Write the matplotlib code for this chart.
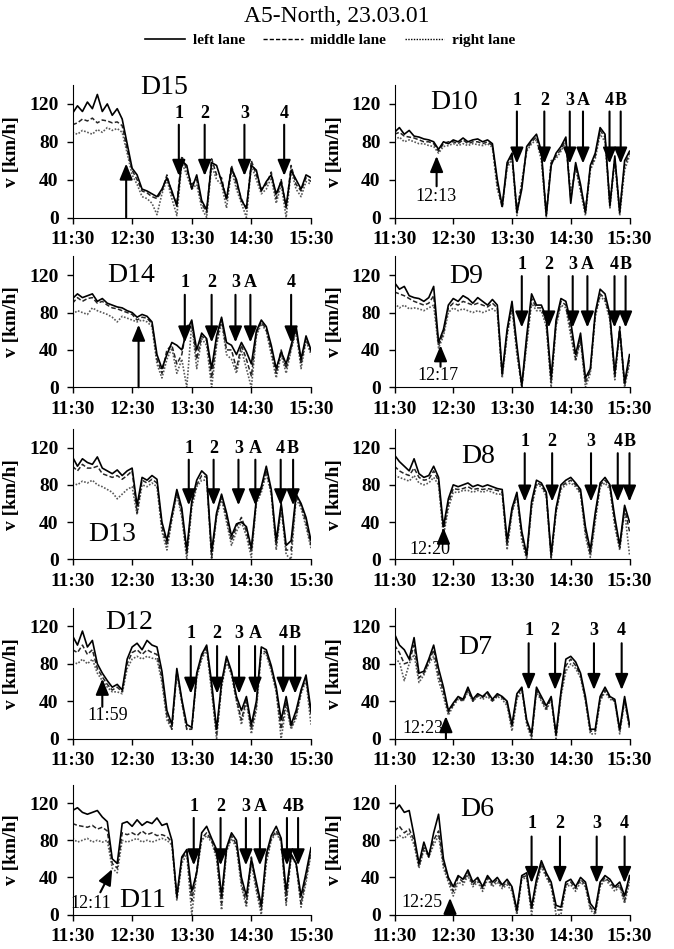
import matplotlib.pyplot as plt
from matplotlib.lines import Line2D

plt.rcParams['font.family'] = ['Liberation Serif', 'DejaVu Serif']
plt.rcParams['font.weight'] = 'bold'

# time axis: minutes after 11:30, sampled every 5 min
minutes = list(range(0, 245, 5))
hour_ticks = [0, 60, 120, 180, 240]
hour_labels = ['11:30', '12:30', '13:30', '14:30', '15:30']
speed_ticks = [0, 40, 80, 120]

# ---- speeds [km/h] per detector and lane ----
d15_left = [110, 118, 112, 122, 115, 130, 112, 120, 108, 115,
            104, 78, 52, 45, 30, 28, 25, 22, 30, 42,
            28, 12, 60, 55, 30, 45, 18, 8, 58, 55,
            38, 20, 52, 40, 18, 10, 55, 50, 28, 38,
            45, 25, 38, 12, 50, 40, 30, 45, 42]
d15_mid = [98, 100, 104, 102, 105, 100, 103, 102, 100, 101,
           97, 72, 50, 40, 28, 26, 22, 20, 28, 45,
           25, 15, 65, 50, 35, 40, 15, 5, 62, 45,
           42, 18, 55, 35, 20, 8, 60, 45, 30, 35,
           48, 20, 40, 10, 55, 35, 28, 42, 38]
d15_right = [90, 88, 92, 90, 88, 93, 90, 95, 92, 94,
             90, 68, 45, 35, 22, 20, 15, 3, 25, 40,
             20, 2, 58, 45, 30, 35, 10, 0, 55, 40,
             35, 10, 50, 30, 15, 0, 55, 40, 25, 30,
             42, 15, 35, 0, 50, 30, 22, 38, 35]

d10_left = [90, 95, 88, 92, 86, 85, 83, 82, 80, 72,
            80, 78, 82, 80, 84, 80, 82, 83, 80, 82,
            78, 40, 12, 58, 68, 5, 30, 75, 82, 88,
            70, 2, 55, 68, 75, 85, 15, 58, 35, 5,
            55, 68, 95, 88, 12, 65, 5, 60, 70]
d10_mid = [88, 90, 86, 85, 84, 82, 80, 80, 78, 70,
           78, 80, 80, 78, 82, 78, 80, 80, 78, 80,
           76, 35, 10, 55, 65, 8, 35, 72, 80, 85,
           65, 5, 58, 65, 72, 82, 20, 55, 30, 8,
           52, 65, 92, 85, 15, 62, 8, 55, 68]
d10_right = [82, 85, 80, 82, 80, 78, 78, 76, 75, 68,
             75, 76, 78, 76, 78, 76, 78, 77, 76, 78,
             74, 30, 12, 52, 62, 2, 38, 70, 78, 82,
             60, 0, 60, 62, 70, 80, 25, 52, 28, 2,
             50, 62, 88, 80, 10, 60, 2, 50, 65]

d14_left = [95, 100, 96, 98, 100, 92, 95, 90, 88, 86,
            85, 82, 80, 75, 78, 76, 70, 35, 20, 35,
            48, 45, 40, 60, 72, 40, 58, 52, 20, 55,
            75, 48, 45, 35, 48, 38, 25, 60, 72, 65,
            45, 20, 38, 25, 45, 65, 30, 55, 40]
d14_mid = [90, 96, 92, 95, 96, 90, 92, 88, 85, 84,
           82, 80, 78, 72, 75, 74, 68, 30, 15, 40,
           45, 25, 35, 65, 70, 30, 55, 50, 10, 50,
           73, 40, 40, 20, 45, 30, 12, 58, 70, 62,
           40, 15, 40, 20, 42, 62, 25, 52, 38]
d14_right = [78, 82, 80, 78, 85, 82, 80, 78, 75, 70,
             76, 74, 72, 70, 72, 70, 65, 25, 10, 30,
             42, 15, 30, 0, 68, 20, 52, 45, 0, 45,
             70, 35, 30, 15, 40, 20, 0, 55, 68, 60,
             35, 10, 35, 15, 40, 60, 20, 50, 35]

d9_left = [112, 105, 108, 98, 96, 95, 92, 96, 108, 48,
           62, 88, 95, 92, 98, 95, 90, 96, 92, 88,
           94, 88, 15, 62, 92, 45, 2, 55, 100, 88,
           88, 75, 10, 72, 95, 92, 70, 35, 58, 10,
           20, 80, 105, 100, 78, 15, 62, 5, 35]
d9_mid = [102, 100, 98, 95, 92, 90, 88, 90, 98, 45,
          58, 85, 90, 88, 92, 90, 88, 90, 88, 86,
          90, 85, 12, 58, 88, 40, 0, 50, 95, 85,
          85, 70, 5, 68, 92, 88, 62, 30, 52, 5,
          18, 78, 100, 95, 75, 10, 65, 2, 30]
d9_right = [90, 85, 88, 84, 85, 84, 82, 85, 88, 42,
            55, 80, 85, 82, 84, 82, 80, 82, 80, 82,
            84, 80, 10, 55, 85, 35, 0, 45, 90, 82,
            82, 65, 0, 65, 88, 85, 55, 28, 50, 0,
            15, 75, 98, 92, 72, 8, 60, 0, 25]

d13_left = [110, 100, 108, 104, 102, 110, 98, 95, 92, 96,
            90, 95, 98, 58, 88, 85, 90, 86, 40, 20,
            48, 75, 55, 10, 62, 85, 95, 90, 8, 50,
            70, 50, 25, 38, 40, 35, 12, 65, 78, 100,
            75, 20, 60, 15, 20, 70, 60, 45, 20]
d13_mid = [100, 95, 102, 98, 98, 100, 92, 90, 88, 90,
           86, 90, 95, 50, 85, 82, 86, 82, 35, 15,
           45, 72, 50, 5, 60, 80, 90, 88, 2, 48,
           68, 45, 20, 35, 45, 30, 8, 62, 75, 96,
           72, 15, 58, 10, 10, 68, 58, 40, 15]
d13_right = [82, 80, 84, 82, 85, 80, 78, 75, 72, 65,
             70, 75, 78, 48, 80, 78, 82, 78, 30, 10,
             42, 70, 45, 0, 55, 78, 85, 85, 0, 45,
             65, 40, 15, 30, 40, 25, 2, 60, 72, 92,
             70, 10, 55, 5, 0, 65, 55, 35, 12]

d8_left = [112, 105, 100, 95, 108, 92, 88, 90, 100, 88,
           35, 65, 80, 78, 80, 82, 78, 80, 78, 80,
           78, 76, 75, 20, 55, 72, 30, 5, 62, 85,
           82, 72, 5, 55, 80, 85, 88, 82, 75, 35,
           10, 50, 82, 88, 80, 45, 15, 58, 40]
d8_mid = [100, 95, 92, 90, 98, 88, 85, 86, 95, 84,
          30, 60, 76, 75, 76, 78, 75, 76, 75, 76,
          75, 74, 72, 15, 52, 70, 25, 2, 58, 82,
          80, 70, 2, 52, 78, 82, 85, 80, 72, 30,
          5, 45, 80, 85, 78, 40, 12, 55, 30]
d8_right = [90, 88, 86, 84, 90, 82, 80, 82, 88, 80,
            25, 55, 72, 72, 74, 74, 72, 74, 72, 74,
            72, 70, 70, 10, 50, 68, 20, 0, 55, 80,
            78, 68, 0, 50, 75, 80, 82, 78, 70, 25,
            2, 40, 78, 82, 75, 35, 10, 52, 5]

d12_left = [110, 100, 115, 98, 105, 80, 70, 62, 55, 58,
            52, 85, 98, 102, 95, 105, 100, 98, 72, 30,
            15, 75, 42, 15, 12, 70, 90, 100, 60, 10,
            60, 88, 72, 45, 30, 45, 15, 40, 98, 95,
            78, 55, 20, 45, 15, 30, 52, 68, 30]
d12_mid = [95, 92, 100, 90, 95, 75, 66, 58, 52, 55,
           50, 80, 92, 95, 90, 95, 92, 90, 65, 25,
           10, 72, 40, 10, 10, 68, 88, 98, 55, 5,
           58, 85, 70, 42, 20, 42, 10, 35, 95, 92,
           75, 52, 10, 40, 12, 25, 50, 65, 25]
d12_right = [82, 80, 85, 80, 85, 70, 62, 55, 50, 50,
             48, 75, 85, 88, 85, 88, 86, 85, 60, 20,
             10, 70, 38, 10, 10, 65, 85, 95, 50, 0,
             55, 82, 68, 40, 15, 40, 5, 30, 92, 90,
             72, 50, 0, 35, 10, 22, 48, 62, 15]

d7_left = [112, 100, 95, 85, 108, 70, 72, 85, 100, 75,
           55, 30, 38, 45, 42, 55, 42, 48, 45, 50,
           42, 48, 45, 40, 15, 48, 55, 20, 5, 55,
           45, 35, 45, 5, 50, 85, 88, 82, 70, 45,
           10, 10, 45, 55, 45, 42, 10, 45, 15]
d7_mid = [100, 92, 80, 82, 100, 65, 70, 82, 95, 68,
          50, 28, 36, 44, 40, 52, 40, 46, 44, 48,
          40, 46, 44, 38, 12, 45, 55, 18, 2, 52,
          42, 32, 44, 2, 48, 78, 85, 78, 68, 42,
          8, 8, 42, 52, 44, 40, 8, 42, 12]
d7_right = [85, 82, 62, 80, 90, 60, 68, 80, 88, 62,
            45, 25, 35, 42, 40, 50, 40, 45, 42, 45,
            40, 45, 42, 35, 8, 42, 52, 15, 0, 50,
            40, 30, 42, 0, 45, 72, 80, 75, 65, 40,
            5, 5, 40, 50, 42, 40, 5, 40, 10]

d11_left = [112, 115, 110, 108, 110, 112, 105, 100, 60, 55,
            98, 100, 95, 102, 96, 100, 98, 104, 96, 98,
            80, 20, 62, 70, 25, 45, 88, 95, 82, 70,
            20, 72, 88, 80, 40, 20, 60, 35, 10, 65,
            85, 95, 82, 25, 65, 55, 20, 45, 72]
d11_mid = [98, 96, 95, 94, 96, 92, 94, 90, 55, 50,
           88, 86, 88, 85, 90, 86, 88, 85, 86, 84,
           78, 18, 60, 68, 15, 48, 82, 88, 80, 65,
           12, 70, 85, 75, 35, 12, 62, 30, 5, 60,
           82, 90, 80, 15, 65, 55, 12, 40, 68]
d11_right = [82, 78, 80, 82, 78, 80, 78, 80, 50, 45,
             80, 78, 80, 82, 78, 80, 78, 80, 82, 80,
             75, 15, 55, 65, 0, 45, 80, 85, 78, 60,
             5, 68, 82, 72, 30, 8, 55, 25, 0, 55,
             80, 88, 78, 10, 62, 55, 8, 35, 65]

d6_left = [112, 118, 110, 112, 85, 55, 78, 62, 88, 108,
           60, 40, 30, 42, 38, 48, 35, 40, 30, 42,
           35, 40, 32, 38, 30, 5, 42, 45, 8, 38,
           58, 45, 35, 10, 8, 35, 38, 30, 40, 35,
           12, 5, 35, 42, 38, 30, 35, 20, 42]
d6_mid = [90, 95, 88, 92, 80, 52, 72, 65, 80, 90,
          55, 38, 25, 40, 35, 45, 32, 38, 28, 40,
          32, 38, 30, 35, 28, 2, 40, 42, 5, 35,
          55, 42, 32, 5, 5, 32, 35, 28, 38, 32,
          8, 2, 32, 40, 35, 28, 32, 15, 40]
d6_right = [80, 85, 82, 88, 75, 50, 70, 62, 75, 85,
            50, 35, 20, 35, 32, 42, 30, 35, 25, 38,
            30, 35, 28, 32, 25, 0, 38, 40, 0, 32,
            52, 40, 30, 0, 0, 30, 32, 25, 35, 30,
            5, 0, 30, 38, 32, 25, 30, 12, 35]

# ---- marked events (arrows) ----
d15_marks, d15_mark_t = ['1', '2', '3', '4'], [107, 133, 173, 213]
d10_marks, d10_mark_t = ['1', '2', '3', 'A', '4', 'B'], [125, 153, 179, 192.5, 219.6, 231]
d14_marks, d14_mark_t = ['1', '2', '3', 'A', '4'], [113, 140, 164, 179, 220]
d9_marks, d9_mark_t = ['1', '2', '3', 'A', '4', 'B'], [130, 157.5, 182, 197, 224.7, 236]
d13_marks, d13_mark_t = ['1', '2', '3', 'A', '4', 'B'], [117, 142, 167, 184, 209.5, 222]
d8_marks, d8_mark_t = ['1', '2', '3', '4', 'B'], [133, 161, 200.7, 228, 240]
d12_marks, d12_mark_t = ['1', '2', '3', 'A', '4', 'B'], [119, 145.5, 167.6, 183.7, 212, 224]
d7_marks, d7_mark_t = ['1', '2', '3', '4'], [137, 164, 203.7, 232]
d11_marks, d11_mark_t = ['1', '2', '3', 'A', '4', 'B'], [122, 149, 174.5, 188.6, 215.8, 227]
d6_marks, d6_mark_t = ['1', '2', '3', '4'], [140, 169, 206.5, 235]

# congestion onset labels
onset_labels = {'D10': '12:13', 'D9': '12:17', 'D8': '12:20', 'D12': '11:59',
                'D7': '12:23', 'D11': '12:11', 'D6': '12:25'}

W, H = 674, 949
fig = plt.figure(figsize=(W / 100, H / 100), dpi=100)

# axes boxes in pixels: (left, right) per column, (top, bottom) per row
col_x = [(72.5, 311), (394.5, 629.5)]
row_y = [(85, 217.5), (256.5, 387.3), (429, 559.3), (607.7, 738.6), (784.5, 914.6)]

panels = [
    # name, data, marks, arrow tip/top/label level, name pos, onset (tail, tip, label pos)
    ('D15', (d15_left, d15_mid, d15_right), (d15_marks, d15_mark_t), (44, 98, 110),
     (92.5, 137), ((54, 0), (54, 57), None)),
    ('D10', (d10_left, d10_mid, d10_right), (d10_marks, d10_mark_t), (57, 112, 124),
     (61, 121), ((43, 33), (43, 65), (42, 22))),
    ('D14', (d14_left, d14_mid, d14_right), (d14_marks, d14_mark_t), (48, 99, 112),
     (59, 120), ((66.5, 0), (66.5, 67), None)),
    ('D9', (d9_left, d9_mid, d9_right), (d9_marks, d9_mark_t), (64, 119, 131),
     (73.7, 119), ((47, 22), (47, 45), (44.5, 12.5))),
    ('D13', (d13_left, d13_mid, d13_right), (d13_marks, d13_mark_t), (58, 107, 119),
     (40, 27), None),
    ('D8', (d8_left, d8_mid, d8_right), (d8_marks, d8_mark_t), (62, 114, 127),
     (85, 110.5), ((50, 21), (50, 34), (36, 10.5))),
    ('D12', (d12_left, d12_mid, d12_right), (d12_marks, d12_mark_t), (48, 99, 112),
     (56.6, 124), ((30, 34), (30, 64), (35, 25))),
    ('D7', (d7_left, d7_mid, d7_right), (d7_marks, d7_mark_t), (52, 102, 116),
     (82.5, 97), ((52.5, 0), (52.5, 24), (28.6, 11))),
    ('D11', (d11_left, d11_mid, d11_right), (d11_marks, d11_mark_t), (53, 104, 116),
     (71, 15), ((28, 24), (40, 49), (18, 11.7))),
    ('D6', (d6_left, d6_mid, d6_right), (d6_marks, d6_mark_t), (34, 84, 98),
     (84.6, 113), ((56.7, 0), (56.7, 18), (28, 12.5))),
]

head = dict(arrowstyle='-|>,head_length=0.8,head_width=0.33', color='k', lw=1.5,
            mutation_scale=12, shrinkA=0, shrinkB=0)

for i, (name, lanes, marks, levels, name_xy, onset) in enumerate(panels):
    x0, x1 = col_x[i % 2]
    y0, y1 = row_y[i // 2]
    ax = fig.add_axes([x0 / W, 1 - y1 / H, (x1 - x0) / W, (y1 - y0) / H])
    left, mid, right = lanes
    ax.plot(minutes, right, color='0.35', lw=1.2, ls=(0, (1, 1)))
    ax.plot(minutes, mid, color='0.15', lw=1.1, ls=(0, (3, 1.5)))
    ax.plot(minutes, left, color='k', lw=1.2)

    ax.set_xlim(0, 240)
    ax.set_ylim(0, 140)
    ax.set_xticks(hour_ticks)
    ax.set_xticklabels(hour_labels)
    ax.set_yticks(speed_ticks)
    ax.tick_params(direction='out', length=4, width=1, labelsize=14, pad=6)
    for s in ['top', 'right']:
        ax.spines[s].set_visible(False)
    ax.set_ylabel('v [km/h]', fontsize=14, fontweight='bold')
    ax.yaxis.set_label_coords(-0.22, 0.5)

    ax.text(name_xy[0], name_xy[1], name, fontsize=20, fontweight='normal',
            ha='center', va='center', clip_on=False)

    tip, top, lab = levels
    for m, t in zip(*marks):
        ax.annotate('', xy=(t, tip), xytext=(t, top), arrowprops=head,
                    annotation_clip=False)
        ax.text(t, lab, m, fontsize=13, fontweight='bold', ha='center',
                va='center', clip_on=False)

    if onset is not None:
        tail, tipxy, lab_xy = onset
        ax.annotate('', xy=tipxy, xytext=tail, arrowprops=head, annotation_clip=False)
        if lab_xy is not None:
            ax.text(lab_xy[0], lab_xy[1], onset_labels[name], fontsize=13,
                    fontweight='normal', ha='center', va='center')

fig.text(0.5, 1 - 16 / H, 'A5-North, 23.03.01', ha='center', va='center',
         fontsize=17, fontweight='normal')

handles = [Line2D([], [], color='k', lw=1.2),
           Line2D([], [], color='k', lw=1.0, ls=(0, (3, 1.5))),
           Line2D([], [], color='k', lw=1.0, ls=(0, (1, 1)))]
fig.legend(handles, ['left lane', 'middle lane', 'right lane'], loc='center',
           bbox_to_anchor=(0.49, 1 - 40 / H), ncol=3, frameon=False, fontsize=11,
           handlelength=2.6, handletextpad=0.5, columnspacing=1.2)

fig.savefig('out.png', dpi=100)
